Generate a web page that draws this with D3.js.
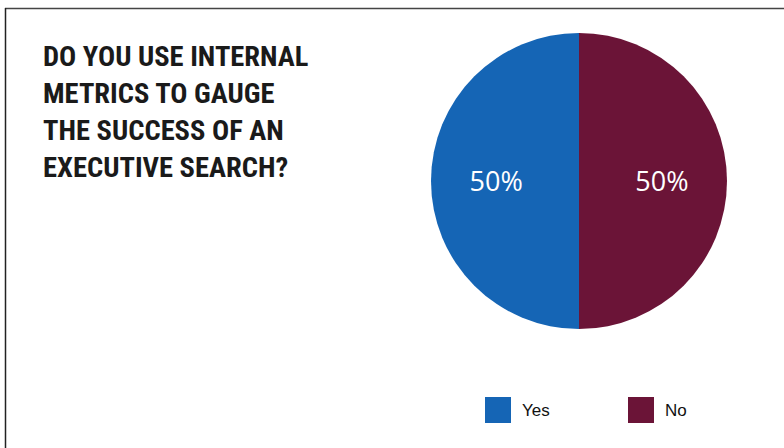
<!DOCTYPE html>
<html><head><meta charset="utf-8">
<script src="https://cdn.jsdelivr.net/npm/d3@7"></script>
<style>body{margin:0;background:#fff}svg{display:block}</style>
</head><body>
<svg id="c" width="784" height="448"></svg>
<script>
const categories = ["Yes", "No"];
const values = [50, 50];
const colors = ["#1565b5", "#6b1437"];
const titleLines = ["DO YOU USE INTERNAL", "METRICS TO GAUGE", "THE SUCCESS OF AN", "EXECUTIVE SEARCH?"];

const svg = d3.select("#c");
// frame
svg.append("line").attr("x1", 5).attr("x2", 784).attr("y1", 8.5).attr("y2", 8.5).attr("stroke", "#444").attr("stroke-width", 1.5);
svg.append("line").attr("x1", 5.5).attr("x2", 5.5).attr("y1", 8).attr("y2", 448).attr("stroke", "#222").attr("stroke-width", 1.5);

// title
const t = svg.append("text").attr("font-family", "'Liberation Sans Narrow','Roboto Condensed','Arial Narrow',sans-serif")
  .attr("font-weight", "bold").attr("font-size", 28.5).attr("fill", "#1a1a1a");
titleLines.forEach((l, i) => t.append("tspan").attr("x", 43).attr("y", 65.5 + i * 37.3).text(l));

// pie
const cx = 579, cy = 181, r = 148;
const data = categories.map((c, i) => ({ cat: c, val: values[i], col: colors[i] }));
const pie = d3.pie().value(d => d.val).sort(null).startAngle(2 * Math.PI).endAngle(0);
const arc = d3.arc().innerRadius(0).outerRadius(r);
const g = svg.append("g").attr("transform", `translate(${cx},${cy})`);
const arcs = pie(data);
g.selectAll("path").data(arcs).join("path").attr("d", arc).attr("fill", d => d.data.col);
const labelArc = d3.arc().innerRadius(r * 0.56).outerRadius(r * 0.56);
g.selectAll("text").data(arcs).join("text")
  .attr("transform", d => `translate(${labelArc.centroid(d)})`)
  .attr("text-anchor", "middle").attr("dy", "0.36em")
  .attr("font-family", "'Open Sans',sans-serif").attr("font-size", 27).attr("font-weight", 400)
  .attr("fill", "#fff").text(d => d.data.val + "%");

// legend
const legX = [485, 628];
const lg = svg.append("g");
data.forEach((d, i) => {
  lg.append("rect").attr("x", legX[i]).attr("y", 397).attr("width", 26).attr("height", 26).attr("fill", d.col);
  lg.append("text").attr("x", legX[i] + 37).attr("y", 416).attr("font-family", "'Liberation Sans',Arial,sans-serif")
    .attr("font-size", 17).attr("fill", "#111").text(d.cat);
});
</script>
</body></html>
